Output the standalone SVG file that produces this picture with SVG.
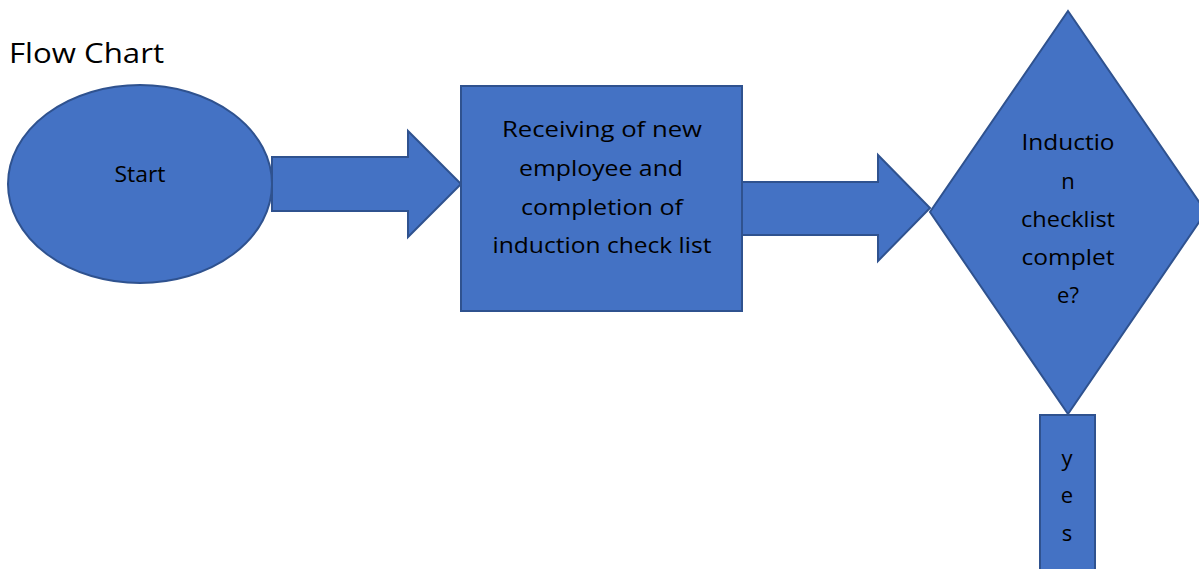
<svg xmlns="http://www.w3.org/2000/svg" width="1199" height="569" viewBox="0 0 1199 569">
<style>
.shape{fill:#4472C4;stroke:#2F528F;stroke-width:2}
.t{font-family:"Open Sans","Lato",sans-serif;fill:#000;text-anchor:middle}
.lbl{font-size:22px}
</style>
<defs>
<clipPath id="dclip"><rect x="930" y="100" width="280" height="204"/></clipPath>
</defs>
<rect width="1199" height="569" fill="#fff"/>
<text x="9" y="63" font-family="'Open Sans', Lato, sans-serif" font-size="28" fill="#000" textLength="155" lengthAdjust="spacingAndGlyphs">Flow Chart</text>
<g id="connectors">
<path class="shape" d="M272,157 H408 V131 L461,184 L408,237 V211 H272 Z"/>
<path class="shape" d="M742,182 H878 V155 L930,208 L878,261 V235 H742 Z"/>
</g>
<g id="start">
<ellipse class="shape" cx="140" cy="184" rx="132" ry="99"/>
<text class="t" x="140" y="182" font-size="21" textLength="51" lengthAdjust="spacingAndGlyphs">Start</text>
</g>
<g id="receive">
<rect class="shape" x="461" y="86" width="281" height="225"/>
<text class="t lbl" x="602" y="137" textLength="200" lengthAdjust="spacingAndGlyphs">Receiving of new</text>
<text class="t lbl" x="601" y="176" textLength="164" lengthAdjust="spacingAndGlyphs">employee and</text>
<text class="t lbl" x="602" y="215" textLength="162" lengthAdjust="spacingAndGlyphs">completion of</text>
<text class="t lbl" x="602" y="253" textLength="219" lengthAdjust="spacingAndGlyphs">induction check list</text>
</g>
<g id="decision">
<path class="shape" d="M1068,11 L1206,212 L1068,414 L930,212 Z"/>
<g clip-path="url(#dclip)">
<text class="t lbl" x="1068" y="150" textLength="93" lengthAdjust="spacingAndGlyphs">Inductio</text>
<text class="t lbl" x="1068" y="189">n</text>
<text class="t lbl" x="1068" y="227" textLength="94" lengthAdjust="spacingAndGlyphs">checklist</text>
<text class="t lbl" x="1068" y="265" textLength="93" lengthAdjust="spacingAndGlyphs">complet</text>
<text class="t lbl" x="1068" y="303">e?</text>
</g>
</g>
<g id="yes">
<rect class="shape" x="1040" y="415" width="55" height="160"/>
<text class="t lbl" x="1067" y="466">y</text>
<text class="t lbl" x="1067" y="503">e</text>
<text class="t lbl" x="1067" y="541">s</text>
</g>
</svg>
